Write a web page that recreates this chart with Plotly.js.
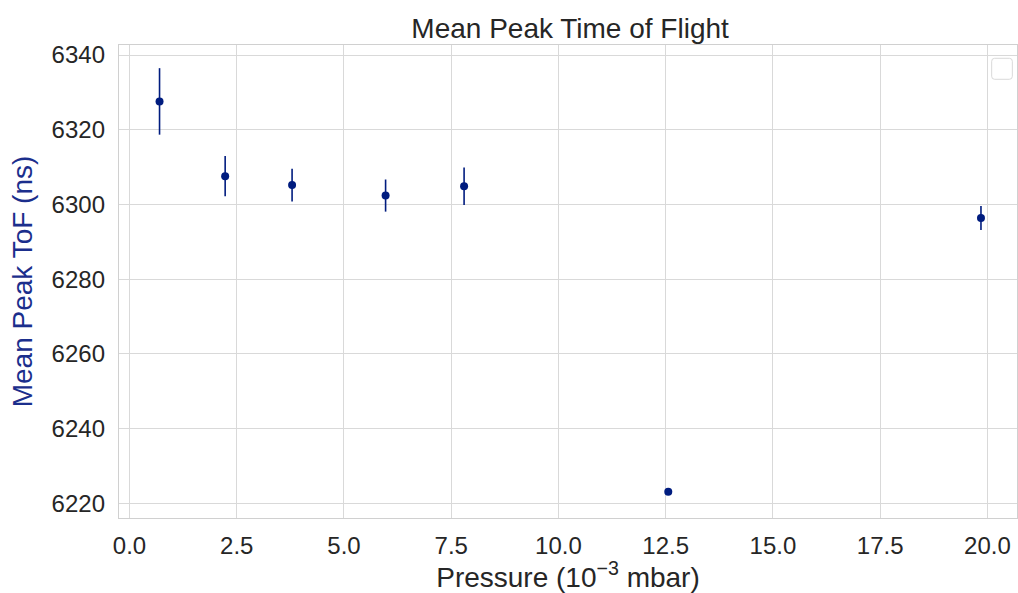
<!DOCTYPE html>
<html>
<head>
<meta charset="utf-8">
<script src="https://cdn.plot.ly/plotly-3.0.1.min.js"></script>
<style>html,body{margin:0;padding:0;background:#fff;}#chart{width:1018px;height:593px;}</style>
</head>
<body>
<div id="chart"></div>
<script>
const pressure = [0.7, 2.23, 3.79, 5.97, 7.8, 12.56, 19.85];
const meanTof = [6327.6, 6307.6, 6305.2, 6302.4, 6304.9, 6223.1, 6296.4];
const tofErr = [8.9, 5.4, 4.4, 4.3, 5.0, 0.3, 3.2];
const xTicks = [0, 2.5, 5, 7.5, 10, 12.5, 15, 17.5, 20];
const yTicks = [6220, 6240, 6260, 6280, 6300, 6320, 6340];

const trace = {
  x: pressure, y: meanTof, type: 'scatter', mode: 'markers',
  marker: {color: '#001c7f', size: 8},
  error_y: {type: 'data', array: tofErr, visible: true, color: '#001c7f', thickness: 1.6, width: 0},
  showlegend: false
};

const fontFam = 'Arial, "Liberation Sans", sans-serif';
const layout = {
  width: 1018, height: 593,
  margin: {l: 119, r: 1, t: 45, b: 75},
  paper_bgcolor: '#fff', plot_bgcolor: '#fff',
  font: {family: fontFam, color: '#262626', size: 24},
  title: {text: 'Mean Peak Time of Flight', x: 0.56, xanchor: 'center', y: 0.953, yanchor: 'middle', font: {size: 28, color: '#262626'}},
  xaxis: {
    range: [-0.245, 20.69], tickvals: xTicks, ticktext: xTicks.map(v => v.toFixed(1)),
    showgrid: true, gridcolor: '#d9d9d9', gridwidth: 1,
    showline: true, linecolor: '#d0d0d0', linewidth: 1.2, mirror: true,
    zeroline: false, ticks: '', ticklen: 0, ticklabelstandoff: 6,
    tickfont: {size: 24, color: '#262626'},
    title: {text: 'Pressure (10<sup>\u22123</sup> mbar)', font: {size: 28, color: '#262626'}, standoff: 8}
  },
  yaxis: {
    range: [6216.1, 6342.7], tickvals: yTicks,
    showgrid: true, gridcolor: '#d9d9d9', gridwidth: 1,
    showline: true, linecolor: '#d0d0d0', linewidth: 1.2, mirror: true,
    zeroline: false, ticks: '', ticklen: 0, ticklabelstandoff: 8,
    tickfont: {size: 24, color: '#262626'},
    title: {text: 'Mean Peak ToF (ns)', font: {size: 28, color: '#1b2e8c'}, standoff: 10}
  },
  shapes: [{
    type: 'path', xref: 'paper', yref: 'paper',
    path: 'M 0.9751,0.9719 L 0.9915,0.9719 Q 0.9948,0.9719 0.9948,0.9656 L 0.9948,0.9338 Q 0.9948,0.9275 0.9915,0.9275 L 0.9751,0.9275 Q 0.9718,0.9275 0.9718,0.9338 L 0.9718,0.9656 Q 0.9718,0.9719 0.9751,0.9719 Z',
    line: {color: '#d9d9d9', width: 1}, fillcolor: 'rgba(255,255,255,0.8)'
  }]
};

Plotly.newPlot('chart', [trace], layout, {displayModeBar: false, staticPlot: true});
</script>
</body>
</html>
